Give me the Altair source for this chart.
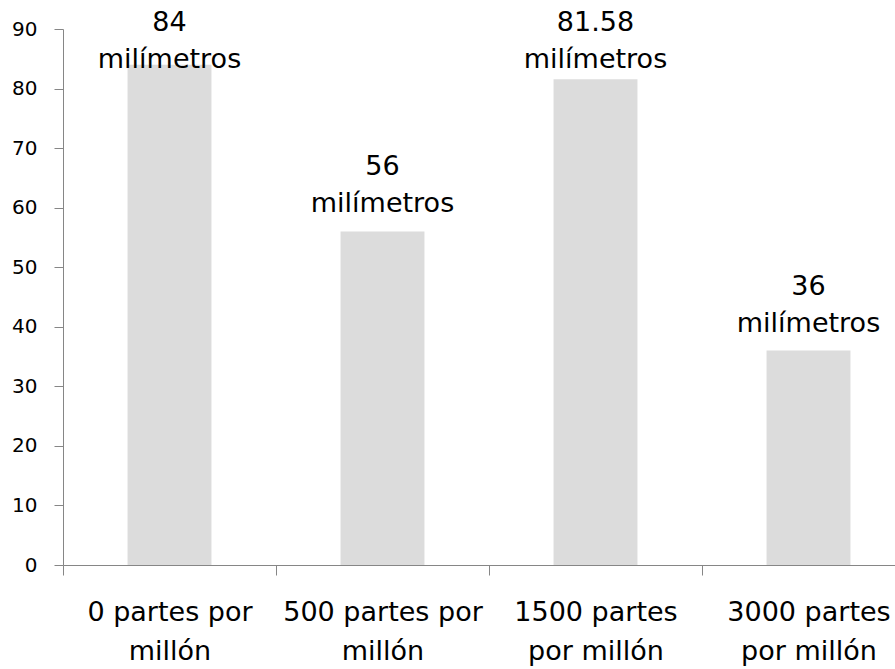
import altair as alt
import pandas as pd

# Root length by salt concentration
categories = [
    "0 partes por millón",
    "500 partes por millón",
    "1500 partes por millón",
    "3000 partes por millón",
]
category_lines = [
    ["0 partes por", "millón"],
    ["500 partes por", "millón"],
    ["1500 partes", "por millón"],
    ["3000 partes", "por millón"],
]
values = [84, 56, 81.58, 36]
value_labels = ["84", "56", "81.58", "36"]
unit_label = "milímetros"

df = pd.DataFrame({
    "categoria": categories,
    "valor": values,
    "etiqueta": value_labels,
    "unidad": [unit_label] * len(categories),
})

label_map = "{" + ", ".join(
    "'{}': [{}]".format(c, ", ".join("'{}'".format(s) for s in lines))
    for c, lines in zip(categories, category_lines)
) + "}"

FONT = "DejaVu Sans"
AXIS_GREY = "#868686"

x_scale = alt.Scale(range=[0, 852], paddingInner=0, paddingOuter=0)

x_enc = alt.X(
    "categoria:N",
    sort=categories,
    title=None,
    scale=x_scale,
    axis=alt.Axis(
        labelAngle=0,
        labelExpr=label_map + "[datum.label]",
        labelFont=FONT,
        labelFontSize=27,
        labelColor="#000000",
        labelBaseline="top",
        labelLineHeight=39,
        labelPadding=24,
        tickBand="extent",
        tickSize=10,
        tickColor=AXIS_GREY,
        domainColor=AXIS_GREY,
        labelLimit=300,
    ),
)

y_scale = alt.Scale(domain=[0, 90], nice=False)

bars = alt.Chart(df).mark_bar(
    color="#DCDCDC", width=alt.RelativeBandSize(0.394)
).encode(
    x=x_enc,
    y=alt.Y(
        "valor:Q",
        scale=y_scale,
        title=None,
        axis=alt.Axis(
            values=list(range(0, 91, 10)),
            grid=False,
            labelFont=FONT,
            labelFontSize=20,
            labelColor="#000000",
            labelPadding=17,
            tickSize=9,
            tickColor=AXIS_GREY,
            domainColor=AXIS_GREY,
        ),
    ),
)

# Labels sit just above each bar, kept inside the top of the plot
label_base = alt.Chart(df).transform_calculate(
    pos="min(datum.valor + 3.2, 83.4)"
)

unit_text = label_base.mark_text(
    font=FONT, fontSize=27, color="#000000", baseline="alphabetic", align="center"
).encode(
    x=alt.X("categoria:N", sort=categories, scale=x_scale),
    y=alt.Y("pos:Q", scale=y_scale),
    text="unidad:N",
)

value_text = label_base.mark_text(
    font=FONT, fontSize=27, color="#000000", baseline="alphabetic", align="center", dy=-37
).encode(
    x=alt.X("categoria:N", sort=categories, scale=x_scale),
    y=alt.Y("pos:Q", scale=y_scale),
    text="etiqueta:N",
)

chart = (
    alt.layer(bars, unit_text, value_text)
    .properties(
        width=832,
        height=536,
        background="#ffffff",
        autosize=alt.AutoSizeParams(type="none"),
        padding={"left": 63, "top": 29, "right": 0, "bottom": 104},
    )
    .configure_view(strokeWidth=0, stroke="transparent")
)

chart.save("out.html", embed_options={"renderer": "svg", "actions": False})
